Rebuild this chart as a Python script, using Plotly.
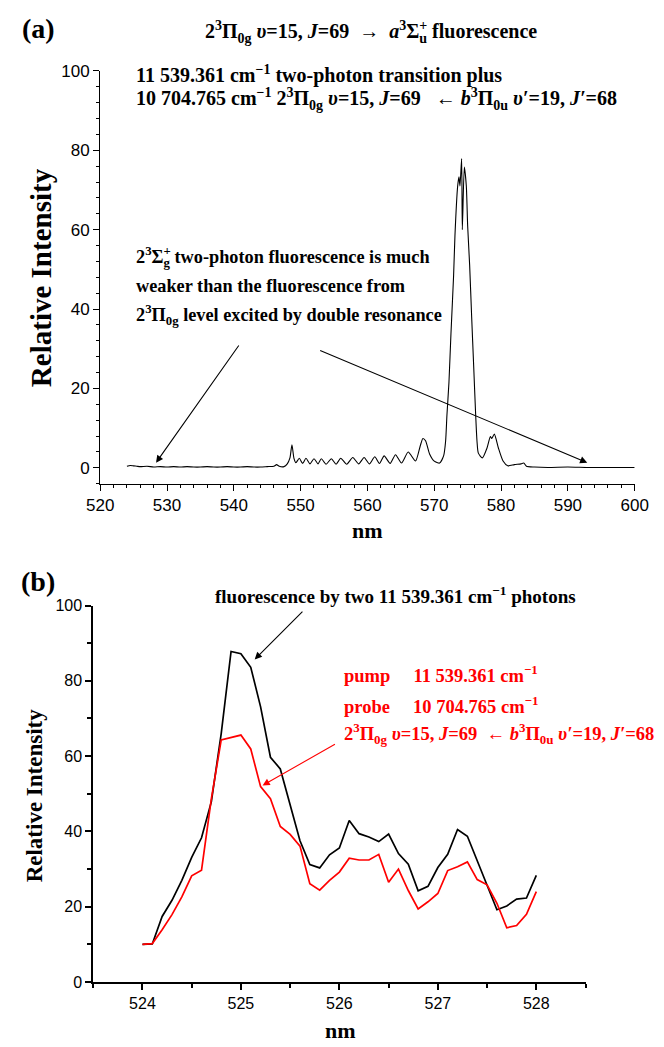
import plotly.graph_objects as go

# ---------------- panel (a): fluorescence spectrum ----------------
wl_a = [524.0, 524.5, 525.0, 525.5, 526.0, 527.0, 528.0, 529.0, 530.0, 531.0,
        532.0, 533.0, 534.0, 535.0, 536.0, 537.0, 538.0, 539.0, 540.0, 541.0,
        542.0, 543.0, 544.0, 545.0, 546.0, 546.4, 546.8, 547.5, 548.0, 548.4,
        548.7, 549.0, 549.3, 549.8, 550.3, 550.8, 551.4, 552.0, 552.6, 553.1,
        553.8, 554.6, 555.3, 556.0, 556.9, 557.8, 558.7, 559.5, 560.3, 561.1,
        561.8, 562.5, 563.4, 564.2, 565.1, 566.1, 567.2, 567.9, 568.3, 568.7,
        569.3, 570.0, 570.8, 571.4, 571.7, 571.9, 572.2, 572.5, 572.9, 573.1,
        573.5, 573.7, 573.85, 574.1, 574.2, 574.5, 574.8, 575.0, 575.3, 575.6,
        575.9, 576.2, 576.4, 576.6, 577.2, 577.9, 578.4, 578.6, 579.0, 579.6,
        580.3, 581.0, 582.0, 583.0, 583.4, 583.8, 585.0, 587.0, 590.0, 593.0,
        596.0, 600.0]
int_a = [0.4, 0.6, 0.5, 0.4, 0.3, 0.4, 0.2, 0.3, 0.2, 0.3,
         0.2, 0.3, 0.2, 0.2, 0.3, 0.2, 0.2, 0.3, 0.2, 0.2,
         0.3, 0.2, 0.2, 0.3, 0.4, 0.8, 0.4, 0.3, 1.0, 2.5,
         5.8, 2.4, 1.3, 2.4, 1.1, 2.4, 1.0, 2.3, 1.0, 2.3,
         0.9, 2.3, 0.9, 2.4, 0.9, 2.6, 1.0, 2.6, 1.0, 2.8,
         1.1, 3.0, 1.1, 3.3, 1.2, 4.0, 1.7, 5.5, 7.4, 6.8,
         3.5, 1.7, 1.2, 3.0, 6.7, 13.3, 21.5, 33.8, 48.6, 58.5,
         70.9, 73.3, 71.0, 77.9, 60.0, 75.8, 71.0, 61.0, 51.0, 38.0,
         25.7, 13.3, 6.7, 3.7, 2.5, 5.0, 7.9, 7.4, 8.5, 5.0,
         1.7, 0.5, 0.8, 1.0, 1.2, 0.4, 0.2, 0.1, 0.2, 0.1,
         0.1, 0.1]

# ---------------- panel (b): two-photon vs double resonance ----------------
wl_b = [524.0, 524.1, 524.2, 524.3, 524.4, 524.5, 524.6, 524.7, 524.8, 524.9,
        525.0, 525.1, 525.2, 525.3, 525.4, 525.5, 525.6, 525.7, 525.8, 525.9,
        526.0, 526.1, 526.2, 526.3, 526.4, 526.5, 526.6, 526.7, 526.8, 526.9,
        527.0, 527.1, 527.2, 527.3, 527.4, 527.5, 527.6, 527.7, 527.8, 527.9,
        528.0]
two_photon = [10.0, 10.1, 17.4, 21.7, 27.0, 33.1, 38.3, 47.9, 66.0, 87.8,
              87.2, 83.6, 73.1, 59.7, 56.6, 47.0, 37.5, 31.2, 30.3, 33.8,
              35.6, 42.9, 39.4, 38.5, 37.3, 39.3, 34.1, 31.3, 24.2, 25.4,
              30.4, 33.9, 40.5, 38.7, 32.2, 25.7, 19.2, 20.2, 22.0, 22.3,
              28.3]
double_res = [10.0, 10.2, 13.9, 17.9, 22.6, 28.2, 29.7, 48.7, 64.3, 64.9,
              65.6, 61.9, 51.9, 48.7, 41.3, 39.2, 36.1, 26.1, 24.4, 27.0,
              29.2, 32.9, 32.4, 32.4, 33.9, 26.5, 30.0, 24.3, 19.4, 21.3,
              23.5, 29.6, 30.6, 31.9, 27.2, 25.8, 20.9, 14.4, 15.0, 18.0,
              24.0]

W, H = 664, 1047
SERIF = "Liberation Serif, Times New Roman, serif"
SANS = "Liberation Sans, Arial, sans-serif"
RED = "#ff0000"
CLEAR = "<span style='color:rgba(0,0,0,0)'>{}</span>"
NB = "\u00a0"


def px(x):
    return x / W


def py(y):
    return 1 - y / H


fig = go.Figure()
fig.add_trace(go.Scatter(x=wl_a, y=int_a, mode="lines",
                         line=dict(color="black", width=1.1, shape="spline",
                                   smoothing=0.6),
                         xaxis="x", yaxis="y", showlegend=False))
fig.add_trace(go.Scatter(x=wl_b, y=two_photon, mode="lines",
                         line=dict(color="black", width=1.7),
                         xaxis="x2", yaxis="y2", showlegend=False))
fig.add_trace(go.Scatter(x=wl_b, y=double_res, mode="lines",
                         line=dict(color=RED, width=1.7),
                         xaxis="x2", yaxis="y2", showlegend=False))

axis_common = dict(showgrid=False, zeroline=False, showline=True,
                   linecolor="black", ticks="outside", tickcolor="black",
                   mirror=False)

fig.update_layout(
    width=W, height=H,
    margin=dict(l=0, r=0, t=0, b=0),
    paper_bgcolor="white", plot_bgcolor="white",
    xaxis=dict(axis_common, domain=[px(90), px(648)], range=[520, 600],
               anchor="y", dtick=10, tick0=520, ticklen=6, linewidth=1.4,
               tickwidth=1.4,
               minor=dict(dtick=2, tick0=520, ticklen=3, ticks="outside",
                          tickcolor="black", tickwidth=1),
               tickfont=dict(family=SANS, size=17, color="black")),
    yaxis=dict(axis_common, domain=[py(483), py(63)], range=[-4, 100],
               anchor="x", dtick=20, tick0=0, ticklen=6, linewidth=1.4,
               tickwidth=1.4,
               minor=dict(dtick=4, tick0=0, ticklen=3, ticks="outside",
                          tickcolor="black", tickwidth=1),
               tickfont=dict(family=SANS, size=17, color="black")),
    xaxis2=dict(axis_common, domain=[px(82.7), px(596.7)], range=[523.5, 528.5],
                anchor="y2", dtick=1, tick0=524, ticklen=6, linewidth=1.8,
                tickwidth=1.8,
                minor=dict(dtick=0.5, tick0=524, ticklen=4, ticks="outside",
                           tickcolor="black", tickwidth=1.5),
                tickfont=dict(family=SANS, size=16, color="black")),
    yaxis2=dict(axis_common, domain=[py(990), py(607)], range=[0, 100],
                anchor="x2", dtick=20, tick0=0, ticklen=6, linewidth=1.8,
                tickwidth=1.8,
                minor=dict(dtick=10, tick0=0, ticklen=4, ticks="outside",
                           tickcolor="black", tickwidth=1.5),
                tickfont=dict(family=SANS, size=16, color="black")),
)

ann = []


def label(x, y, text, size=18.3, color="black", xanchor="left", angle=0,
          yanchor="middle"):
    ann.append(dict(x=px(x), y=py(y), xref="paper", yref="paper", text=text,
                    showarrow=False, xanchor=xanchor, yanchor=yanchor,
                    textangle=angle,
                    font=dict(family=SERIF, size=size, color=color)))


PI0G = "2<sup>3</sup>Π<sub>0g</sub>"
PI0U = "<i>b</i><sup>3</sup>Π<sub>0u</sub>"
STATE = "<i>υ</i>=15, <i>J</i>=69"
STATE_B = "<i>υ′</i>=19, <i>J′</i>=68"
CM = "cm<sup>−1</sup>"
LEFT = NB * 3 + "←" + NB
RED_LEFT = NB * 2 + "←" + NB
RIGHT = NB * 2 + "→" + NB * 2
TOP = 20

# panel labels
label(26, 20, "<b>(a)</b>", size=28, xanchor="center")
label(25, 583, "<b>(b)</b>", size=28, xanchor="center")

# panel (a) texts; the "+" of each Σ is laid over its subscript by a second
# label whose leading part is transparent, so both share the same start
head = f"{PI0G} {STATE}{RIGHT}<i>a</i><sup>3</sup>Σ"
label(197, 23, f"<b>{head}<sub>u</sub> fluorescence</b>", size=TOP)
label(197, 23, "<b>" + CLEAR.format(head) + "<sup>+</sup>"
      + CLEAR.format("<sub>u</sub>") + "</b>", size=TOP)
label(125, 67, f"<b>11 539.361 {CM} two-photon transition plus</b>", size=TOP)
label(125, 92, f"<b>10 704.765 {CM} {PI0G} {STATE}{LEFT}{PI0U} {STATE_B}</b>",
      size=TOP)
label(125, 252, "<b>2<sup>3</sup>Σ<sub>g</sub> two-photon fluorescence is much</b>")
label(125, 252, "<b>" + CLEAR.format("2<sup>3</sup>Σ") + "<sup>+</sup>"
      + CLEAR.format("<sub>g</sub>") + "</b>")
label(125, 282, "<b>weaker than the fluorescence from</b>")
label(125, 311, f"<b>{PI0G} level excited by double resonance</b>")

# panel (b) texts
label(398, 596, f"<b>fluorescence by two 11 539.361 {CM} photons</b>",
      size=19, xanchor="center")
label(342, 677, f"<b>pump{NB * 5}11 539.361 {CM}</b>", size=18.5, color=RED)
label(342, 708, f"<b>probe{NB * 5}10 704.765 {CM}</b>", size=18.5, color=RED)
label(342, 737, f"<b>{PI0G} {STATE}{RED_LEFT}{PI0U} {STATE_B}</b>", size=18.5,
      color=RED)

# axis titles
label(28, 273, "<b>Relative Intensity</b>", size=29, xanchor="center", angle=-90)
label(21, 800, "<b>Relative Intensity</b>", size=23, xanchor="center", angle=-90)
label(369, 531, "<b>nm</b>", size=22, xanchor="center")
label(341, 1039, "<b>nm</b>", size=22, xanchor="center")


def arrow(xref, yref, tip, tail, color="black"):
    ann.append(dict(x=tip[0], y=tip[1], ax=tail[0], ay=tail[1],
                    xref=xref, yref=yref, axref=xref, ayref=yref,
                    text="", showarrow=True, arrowhead=2, arrowsize=1.3,
                    arrowwidth=1.1, arrowcolor=color))


arrow("x", "y", (528.36, 1.3), (540.9, 31.2))
arrow("x", "y", (592.9, 1.3), (552.7, 29.7))
arrow("x2", "y2", (525.14, 85.7), (525.64, 98.8))
arrow("x2", "y2", (525.22, 52.2), (525.97, 63.4), color=RED)

fig.update_layout(annotations=ann)
fig.write_html("out.html")
